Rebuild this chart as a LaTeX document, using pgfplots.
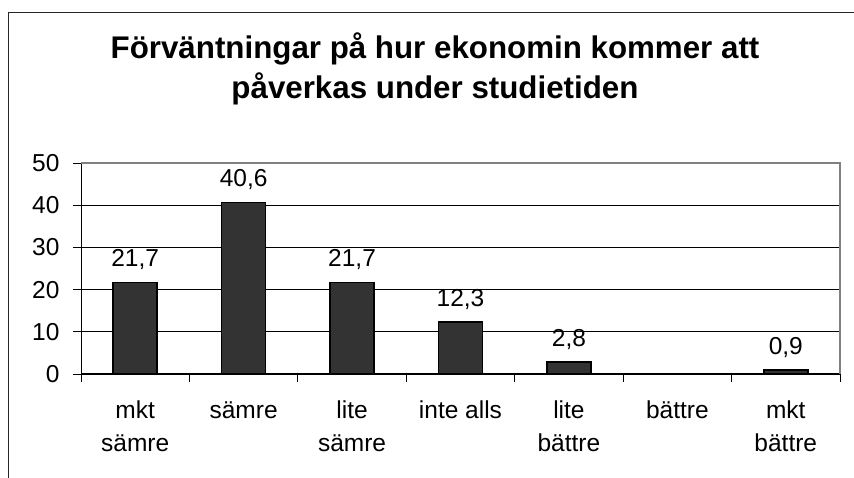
\documentclass[border=0pt]{standalone}
\usepackage{pgfplots}
\pgfplotsset{compat=1.18}
\usepackage{fontspec}
\setmainfont{Liberation Sans}
\definecolor{barfill}{HTML}{333333}
\definecolor{framegray}{HTML}{808080}
\begin{document}
\begin{tikzpicture}[x=1pt,y=1pt]
\path[use as bounding box] (0,0) rectangle (854,478);
\draw[line width=1pt, black!85] (8,-5) -- (8,465) -- (860,465);
\node[align=center, anchor=base, font=\fontsize{31.3}{40}\selectfont\bfseries] at (435,379)
  {Förväntningar på hur ekonomin kommer att\\påverkas under studietiden};
\begin{axis}[
  at={(81pt,104pt)}, anchor=south west,
  scale only axis, width=759pt, height=211pt,
  xmin=-0.5, xmax=6.5, ymin=0, ymax=50,
  ytick={0,10,...,50},
  xtick={-0.5,0.5,...,6.5},
  x tick label as interval,
  xticklabels={{\strut mkt\\sämre},{\strut sämre},{\strut lite\\sämre},{\strut inte alls},{\strut lite\\bättre},{\strut bättre},{\strut mkt\\bättre}},
  xticklabel style={align=center, font=\fontsize{24.5}{33}\selectfont, anchor=north, inner sep=0pt, yshift=-13pt},
  yticklabel style={font=\fontsize{24.5}{28}\selectfont, anchor=east, xshift=-10pt},
  /pgf/number format/assume math mode=true,
  tick align=outside, major tick length=8pt,
  tick style={black, line width=0.8pt},
  axis x line*=bottom, axis y line*=left,
  axis line style={black, line width=1pt},
  ymajorgrids, major grid style={black, line width=0.7pt},
  ybar, bar width=44pt, bar shift=0pt,
  nodes near coords,
  nodes near coords style={font=\fontsize{24.5}{28}\selectfont, anchor=base, yshift=16pt, black,
    /pgf/number format/.cd, fixed, fixed zerofill, precision=1, use comma},
  clip=false,
]
\addplot[fill=barfill, draw=black, line width=1.5pt] coordinates {
  (0,21.7) (1,40.6) (2,21.7) (3,12.3) (4,2.8) (6,0.9)
};
\draw[framegray, line width=1.2pt] (rel axis cs:0,1) -- (rel axis cs:1,1) -- (rel axis cs:1,0);
\end{axis}
\end{tikzpicture}
\end{document}
